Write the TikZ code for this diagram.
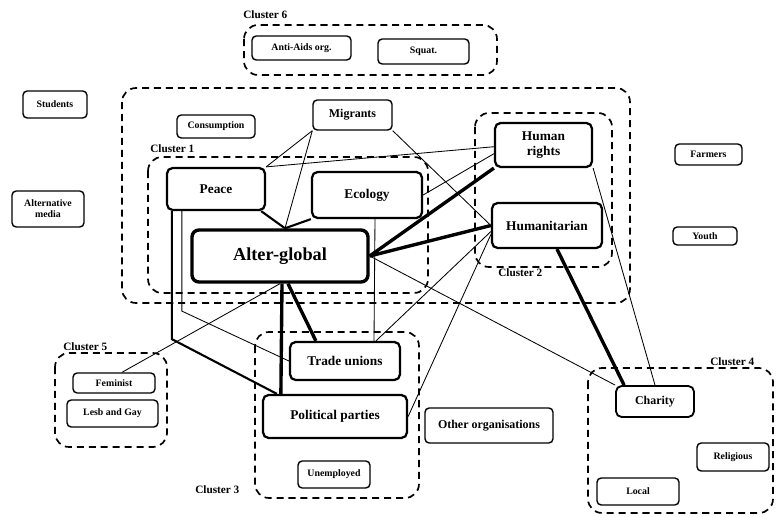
\documentclass[tikz,border=0pt]{standalone}
\usepackage{fontspec}
\setmainfont{Liberation Serif}
\usetikzlibrary{calc}
\tikzset{
  org/.style 2 args={draw, rounded corners=3pt, line width=1pt, inner sep=1pt, align=center,
    font=\bfseries\fontsize{7}{8}\selectfont, minimum width=#1*0.025cm, minimum height=#2*0.025cm},
  core/.style={line width=1.6pt, rounded corners=4pt, font=\bfseries\fontsize{9.5}{11}\selectfont},
  clu/.style={draw, dash pattern=on 5pt off 3.5pt, line width=1.2pt, rounded corners=10pt},
  ctag/.style={font=\bfseries\fontsize{8}{9}\selectfont, inner sep=0pt, anchor=west}
}
\begin{document}
\begin{tikzpicture}[x=0.025cm, y=-0.025cm,
  weak/.style={line width=0.6pt},
  mid/.style={line width=1.5pt},
  strong/.style={line width=2.4pt}]
\useasboundingbox (0,0) rectangle (776,517);
% clusters
\draw[clu] (244,25) rectangle (497,75);
\draw[clu] (122,88) rectangle (630,303);
\draw[clu] (148,157) rectangle (428,293);
\draw[clu] (475,113) rectangle (612,267);
\draw[clu] (255,332) rectangle (419,498);
\draw[clu] (55,353) rectangle (167,447);
\draw[clu] (588,368) rectangle (773,513);
\node[ctag] (c6) at (243,15) {Cluster 6};
\node[ctag] (c1) at (150,149) {Cluster 1};
\node[ctag] (c2) at (498,273) {Cluster 2};
\node[ctag] (c3) at (195,490) {Cluster 3};
\node[ctag] (c5) at (63,347) {Cluster 5};
\node[ctag] (c4) at (710,362) {Cluster 4};
% organisations
\node[org={99}{24}] (anti) at (301.5,48) {Anti-Aids org.};
\node[org={91}{25}] (squat) at (423.5,51.5) {Squat.};
\node[org={64}{27}] (students) at (55,104.5) {Students};
\node[org={72}{36}] (altmedia) at (48,209) {Alternative\\media};
\node[org={78}{23}] (consum) at (216,126.5) {Consumption};
\node[org={79}{30}, font=\bfseries\fontsize{8.5}{10}\selectfont] (migrants) at (352.5,115) {Migrants};
\node[org={98}{42}, core] (peace) at (216,189) {Peace};
\node[org={110}{46}, core] (ecology) at (367,195) {Ecology};
\node[org={176}{52}, core, line width=2.4pt, rounded corners=5pt, font=\bfseries\fontsize{13}{15}\selectfont] (alter) at (280,256) {Alter-global};
\node[org={97}{44}, core] (humrights) at (543.5,145) {Human\\rights};
\node[org={110}{45}, core] (humanit) at (547,225.5) {Humanitarian};
\node[org={67}{21}] (farmers) at (708.5,154.5) {Farmers};
\node[org={64}{18}] (youth) at (705,236) {Youth};
\node[org={110}{38}, core] (trade) at (345,361) {Trade unions};
\node[org={144}{43}, core] (polit) at (335,416.5) {Political parties};
\node[org={72}{27}] (unemp) at (334,474.5) {Unemployed};
\node[org={82}{20}] (feminist) at (114,383) {Feminist};
\node[org={91}{27}] (lesbgay) at (112.5,413.5) {Lesb and Gay};
\node[org={128}{35}, font=\bfseries\fontsize{8.5}{10}\selectfont] (other) at (489,425.5) {Other organisations};
\node[org={78}{31}, core, line width=1.3pt, font=\bfseries\fontsize{8.5}{10}\selectfont] (charity) at (655,401.5) {Charity};
\node[org={72}{28}] (relig) at (733,457) {Religious};
\node[org={82}{27}] (local) at (638,491.5) {Local};
% ties
\draw[weak] (migrants.south west) -- (peace.north east);
\draw[weak] (migrants.south west) -- ($(alter.north)+(5,0)$);
\draw[weak] (migrants.south east) -- (humanit.west);
\draw[weak] (peace.north east) -- (humrights.182);
\draw[weak] (ecology.east) -- (humrights.190);
\draw[strong] (alter.east) -- (humrights.south west);
\draw[strong] (alter.east) -- (humanit.west);
\draw[mid] ($(peace.south east)+(-5,0)$) -- ($(alter.north)+(5,0)$);
\draw[mid] (ecology.south west) -- ($(alter.north)+(5,0)$);
\draw[weak] (alter.east) -- (charity.north west);
\draw[strong] ($(humanit.south)+(10,0)$) -- ($(charity.north west)+(9,0)$);
\draw[weak] (humrights.south east) -- (charity.north);
\draw[weak] ($(ecology.south)+(8,0)$) -- ($(trade.north)+(29,0)$);
\draw[weak] ($(humanit.west)+(0,6)$) -- ($(trade.north)+(31,0)$);
\draw[weak] ($(humanit.west)+(0,9)$) -- (polit.east);
\draw[weak] (alter.south) -- ($(feminist.north)+(8,0)$);
\draw[weak] ($(peace.south west)+(16,0)$) -- ++(0,100) -- (trade.west);
\draw[mid] ($(peace.south west)+(6,0)$) -- ++(0,128) -- ($(polit.north west)+(15,0)$);
\draw[strong] ($(alter.south)+(8,0)$) -- ($(trade.north west)+(27,0)$);
\draw[strong] ($(alter.south)+(2,0)$) -- ($(polit.north west)+(19,0)$);
\end{tikzpicture}
\end{document}
